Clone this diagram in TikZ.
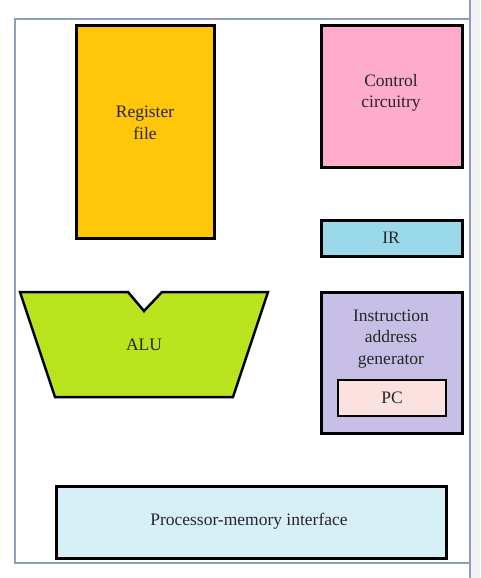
\documentclass[tikz,border=0pt]{standalone}
\usepackage{fontspec}
\setmainfont{Liberation Serif}
\begin{document}
\begin{tikzpicture}[x=1pt,y=-1pt,
  blk/.style={draw=black,line width=3pt},
  lbl/.style={text=black!85,font=\fontsize{17.5}{21.5}\selectfont,align=center,inner sep=0pt},
  frame/.style={draw=framecol,line width=1.3pt}]
\definecolor{framecol}{HTML}{8E9CBE}
\definecolor{regcol}{HTML}{FFC60A}
\definecolor{ctlcol}{HTML}{FFABCB}
\definecolor{ircol}{HTML}{9AD9EA}
\definecolor{alucol}{HTML}{B9E41E}
\definecolor{iagcol}{HTML}{C7BFE6}
\definecolor{pccol}{HTML}{FCE1E1}
\definecolor{pmicol}{HTML}{D7EFF7}
\useasboundingbox (0,0) rectangle (480,578);
\fill[white] (0,0) rectangle (480,578);
\fill[black!5] (470,0) rectangle (480,578);
\draw[frame] (470,0) -- (470,578);
\draw[frame] (470,19) -- (15,19) -- (15,563) -- (470,563);
% register file
\filldraw[blk,fill=regcol] (76,26) rectangle (214,238);
\node[lbl] (reg) at (145,123) {Register\\file};
% control circuitry
\filldraw[blk,fill=ctlcol] (321,26) rectangle (462,167);
\node[lbl] (ctl) at (391,93) {Control\\circuitry};
% IR
\filldraw[blk,fill=ircol] (321,220) rectangle (462,256);
\node[lbl] (ir) at (391,238) {IR};
% ALU
\filldraw[draw=black,line width=2.5pt,line join=miter,fill=alucol]
  (20,292) -- (128,292) -- (144,311) -- (162,292) -- (268,292) -- (233,397) -- (55,397) -- cycle;
\node[lbl] (alu) at (144,345) {ALU};
% instruction address generator
\filldraw[blk,fill=iagcol] (321,292) rectangle (462,433);
\node[lbl] (iag) at (391,339) {Instruction\\address\\generator};
\filldraw[draw=black,line width=1.5pt,fill=pccol] (338,380) rectangle (446,416);
\node[lbl] (pc) at (392,398) {PC};
% processor-memory interface
\filldraw[blk,fill=pmicol] (56,486) rectangle (446,558);
\node[lbl] (pmi) at (249,521) {Processor-memory interface};
\end{tikzpicture}
\end{document}
